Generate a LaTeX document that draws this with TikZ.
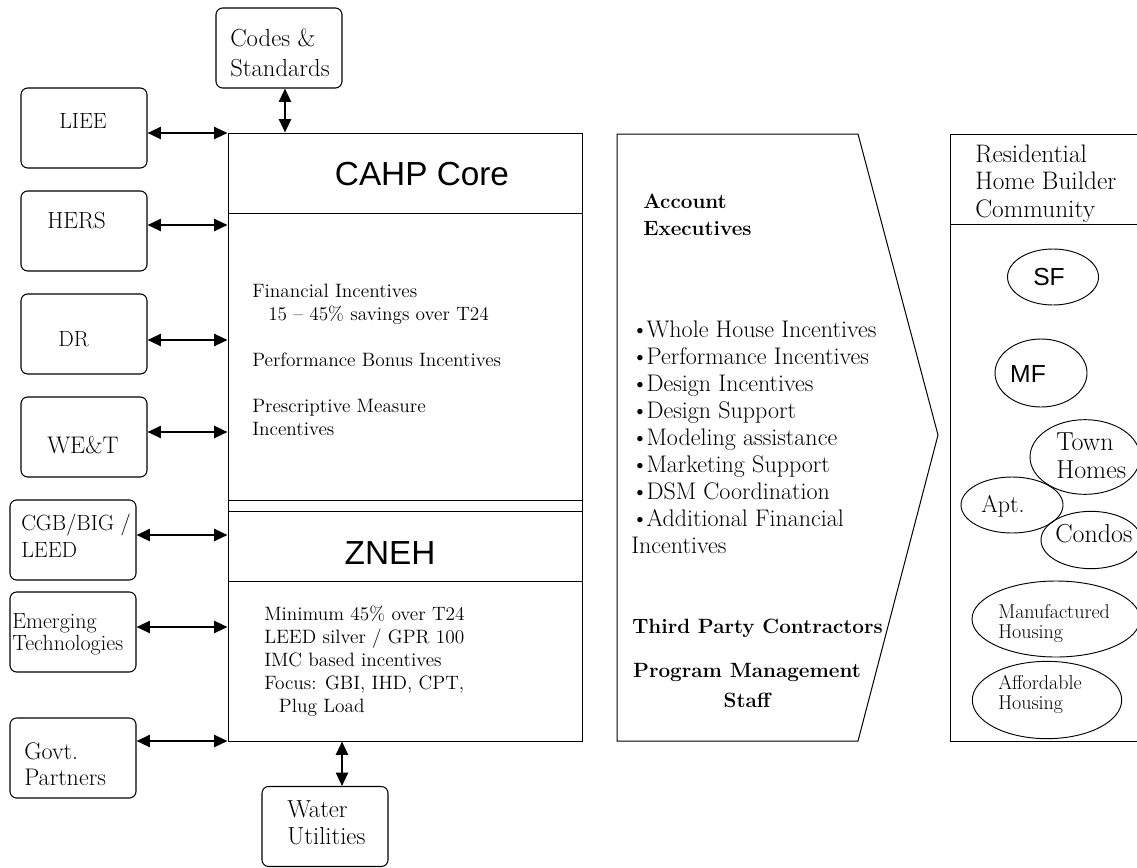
\documentclass[tikz,border=0pt]{standalone}
\usepackage{fontspec}
\setsansfont{Liberation Sans}
\usetikzlibrary{arrows.meta,shapes.geometric}
\newcommand\mybul{\textbullet\kern-1.5pt}
\begin{document}
\begin{tikzpicture}[x=0.75pt,y=-0.75pt,
  lbox/.style={draw,line width=0.8pt,rounded corners=5pt,minimum width=94.5pt,minimum height=60pt,inner sep=0pt},
  arr/.style={line width=1.6pt,{Triangle[length=10pt,width=9pt]}-{Triangle[length=10pt,width=9pt]}},
  thinl/.style={line width=0.75pt},
  ell/.style={draw,ellipse,line width=0.7pt,inner sep=0pt},
  t/.style={inner sep=0pt,anchor=base west,align=left},
  lab/.style={t,font=\fontsize{16.5}{21.5}\selectfont},
  body/.style={t,font=\fontsize{14.5}{17.25}\selectfont},
  mid/.style={t,font=\fontsize{18}{20.25}\selectfont},
  midb/.style={t,font=\bfseries\fontsize{15.5}{20.25}\selectfont},
  head/.style={inner sep=0pt,anchor=base,font=\sffamily\fontsize{25}{30}\selectfont},
]
\useasboundingbox (0,0) rectangle (1137,867);

% left boxes (multi-line texts are placed by the baseline of their last line)
\node[lbox] (codes) at (279,48) {};
\node[lab,font=\fontsize{18.5}{21.75}\selectfont] (codesT) at (230,76) {Codes \&\\Standards};
\node[lbox] (liee) at (84,128) {};
\node[lab] (lieeT) at (59,128) {LIEE};
\node[lbox] (hers) at (84,231) {};
\node[lab,font=\fontsize{17.5}{21}\selectfont] (hersT) at (47,228) {HERS};
\node[lbox] (dr) at (84,334) {};
\node[lab] (drT) at (58,346) {DR};
\node[lbox] (wet) at (84,437) {};
\node[lab,font=\fontsize{18}{21}\selectfont] (wetT) at (47,453) {WE\&T};
\node[lbox] (cgb) at (73,540) {};
\node[lab,font=\fontsize{16.5}{20.25}\selectfont] (cgbT) at (21,557) {CGB/BIG /\\LEED};
\node[lbox] (emerg) at (73,632) {};
\node[lab,font=\fontsize{16.5}{16.5}\selectfont] (emergT) at (12,650) {Emerging\\Technologies};
\node[lbox] (govt) at (73,758) {};
\node[lab,font=\fontsize{18}{19.5}\selectfont] (govtT) at (24,785) {Govt.\\Partners};
\node[lbox] (water) at (325,826.5) {};
\node[lab,font=\fontsize{18.5}{20.25}\selectfont] (waterT) at (287,844) {Water\\Utilities};

% main box
\node[draw,thinl,minimum width=265.5pt,minimum height=456pt,inner sep=0pt] (main) at (405,437) {};
\draw[thinl] (main.west |- 0,213) -- (main.east |- 0,213);
\draw[thinl] (main.west |- 0,500.7) -- (main.east |- 0,500.7);
\draw[thinl] (main.west |- 0,511.7) -- (main.east |- 0,511.7);
\draw[thinl] (main.west |- 0,581) -- (main.east |- 0,581);
\node[head] (core) at (422,185) {CAHP Core};
\node[head] (zneh) at (390,564) {ZNEH};
\node[body] (fin) at (252,435) {Financial Incentives\\\hspace*{12pt}15 -- 45\% savings over T24\\[17.25pt]Performance Bonus Incentives\\[17.25pt]Prescriptive Measure\\Incentives};
\node[body] (znehT) at (264,712) {Minimum 45\% over T24\\LEED silver / GPR 100\\IMC based incentives\\Focus: GBI, IHD, CPT,\\\hspace*{11pt}Plug Load};

% connectors
\draw[arr] (liee.east |- 0,133) -- (main.west |- 0,133);
\draw[arr] (hers.east |- 0,225) -- (main.west |- 0,225);
\draw[arr] (dr.east |- 0,340) -- (main.west |- 0,340);
\draw[arr] (wet.east |- 0,432) -- (main.west |- 0,432);
\draw[arr] (cgb.east |- 0,535) -- (main.west |- 0,535);
\draw[arr] (emerg.east |- 0,627) -- (main.west |- 0,627);
\draw[arr] (govt.east |- 0,741) -- (main.west |- 0,741);
\draw[arr] (codes.south -| 285,0) -- (main.north -| 285,0);
\draw[arr] (main.south -| 342,0) -- (water.north -| 342,0);

% chevron
\draw[thinl] (617,134) -- (858,134) -- (938,435) -- (858,741) -- (617,741) -- cycle;
\node[midb] (acc) at (643,235) {Account\\Executives};
\node[mid] (list) at (631,553) {\mybul Whole House Incentives\\\mybul Performance Incentives\\\mybul Design Incentives\\\mybul Design Support\\\mybul Modeling assistance\\\mybul Marketing Support\\\mybul DSM Coordination\\\mybul Additional Financial\\Incentives};
\node[midb] (third) at (632,633) {Third Party Contractors};
\node[inner sep=0pt,anchor=base,align=center,font=\bfseries\fontsize{15.5}{22.5}\selectfont] (pms) at (747,707) {Program Management\\Staff};

% right column
\draw[thinl] (1150,134) -- (950,134) -- (950,741) -- (1150,741);
\draw[thinl] (950,224) -- (1150,224);
\node[t,font=\fontsize{19}{20.6}\selectfont] (res) at (975,217) {Residential\\Home Builder\\Community};
\node[ell,minimum width=68.25pt,minimum height=42pt] (sf) at (1053,277) {};
\node[inner sep=0pt,font=\sffamily\fontsize{18.5}{22}\selectfont] (sfT) at (1049,277) {SF};
\node[ell,minimum width=69pt,minimum height=51pt] (mf) at (1041,373) {};
\node[inner sep=0pt,font=\sffamily\fontsize{18.5}{22}\selectfont] (mfT) at (1028,374) {MF};
\node[ell,minimum width=82.5pt,minimum height=56pt] (town) at (1085,457) {};
\node[t,font=\fontsize{19.5}{21}\selectfont] (townT) at (1056,478) {Town\\Homes};
\node[ell,minimum width=76.5pt,minimum height=42pt] (apt) at (1012,505) {};
\node[t,font=\fontsize{18}{21}\selectfont] (aptT) at (981,512) {Apt.};
\node[ell,minimum width=75pt,minimum height=43pt] (condo) at (1091,540) {};
\node[t,font=\fontsize{19.5}{21}\selectfont] (condoT) at (1055,542) {Condos};
\node[ell,minimum width=126pt,minimum height=57pt] (manu) at (1056,619) {};
\node[t,font=\fontsize{15}{15}\selectfont] (manuT) at (998,638) {Manufactured\\Housing};
\node[ell,minimum width=112pt,minimum height=58pt] (aff) at (1047,700) {};
\node[t,font=\fontsize{15}{14.5}\selectfont] (affT) at (998,709) {Affordable\\Housing};
\end{tikzpicture}
\end{document}
